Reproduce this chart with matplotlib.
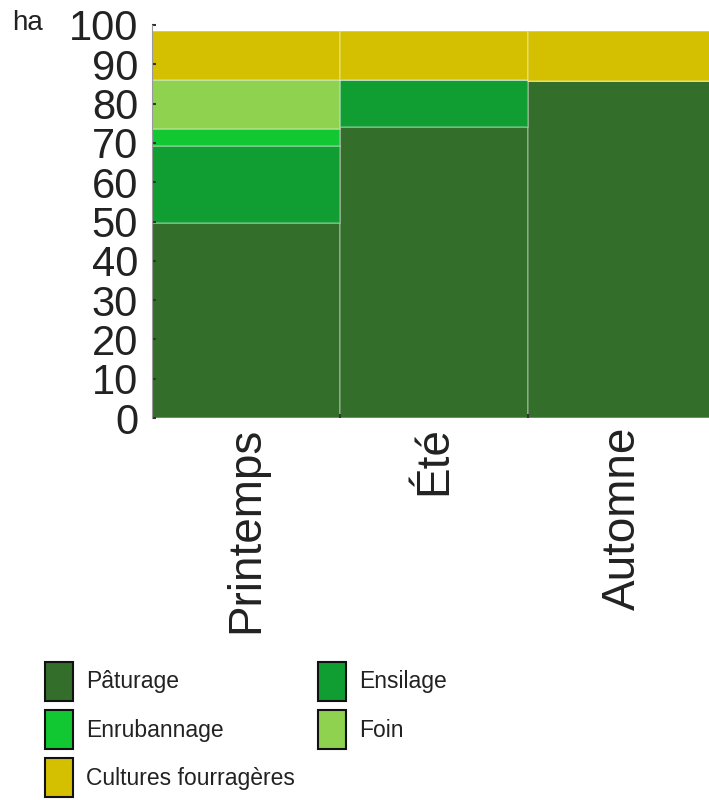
import matplotlib
matplotlib.use("Agg")
import matplotlib.pyplot as plt
from matplotlib.patches import Patch
import numpy as np

plt.rcParams['font.family'] = ['Liberation Sans', 'DejaVu Sans']

saisons = ["Printemps", "Été", "Automne"]
series = ["Pâturage", "Ensilage", "Enrubannage", "Foin", "Cultures fourragères"]
paturage = [49.6, 74.0, 85.8]
ensilage = [19.6, 12.0, 0.0]
enrubannage = [4.3, 0.0, 0.0]
foin = [12.5, 0.0, 0.0]
cultures = [12.5, 12.5, 12.7]
colors = ["#336e2b", "#109e33", "#12c832", "#8ed24f", "#d4c000"]
yticks = [0, 10, 20, 30, 40, 50, 60, 70, 80, 90, 100]

fig = plt.figure(figsize=(7.09, 8.0), dpi=100)
ax = fig.add_axes([152/709, (800-418)/800, (709-152)/709, (418-25)/800])

x = np.arange(len(saisons))
bottom = np.zeros(len(saisons))
handles = {}
for name, vals, c in zip(series, [paturage, ensilage, enrubannage, foin, cultures], colors):
    vals = np.array(vals)
    ax.bar(x, vals, bottom=bottom, width=1.0, color=c,
           edgecolor=(1, 1, 1, 0.3), linewidth=1.2)
    bottom += vals
    handles[name] = Patch(facecolor=c, edgecolor="#111111", linewidth=1.5, label=name)

ax.set_xlim(-0.5, 2.46)
ax.set_ylim(0, 100)
ax.set_yticks(yticks)
ax.set_yticklabels([str(v) for v in yticks], fontsize=30, color="#222222")
ax.set_xticks(x)
ax.set_xticklabels(saisons, rotation=90, fontsize=33, color="#222222")
ax.tick_params(axis='y', direction='in', length=3, width=1.5, pad=10, color="#333333")
ax.tick_params(axis='x', length=0, pad=6)
ax.set_xticks([0.5, 1.5], minor=True)
ax.tick_params(axis='x', which='minor', direction='in', length=3, width=1.5, color="#333333")
for s in ["top", "right", "bottom"]:
    ax.spines[s].set_visible(False)
ax.spines["left"].set_color("#999999")
ax.spines["left"].set_linewidth(0.8)

fig.text(12/709, 1 - 23/800, "ha", fontsize=20, color="#222222", va="center", ha="left")

order = ["Pâturage", "Enrubannage", "Cultures fourragères", "Ensilage", "Foin"]
leg = fig.legend(handles=[handles[n] for n in order], ncol=2, loc="upper left",
                 bbox_to_anchor=(24/709, 1 - 641/800), frameon=False,
                 fontsize=16.5, handlelength=1.25, handleheight=2.25,
                 labelspacing=0.4, columnspacing=1.0, handletextpad=0.55)
for t in leg.get_texts():
    t.set_color("#222222")

fig.savefig("out.png", dpi=100)
